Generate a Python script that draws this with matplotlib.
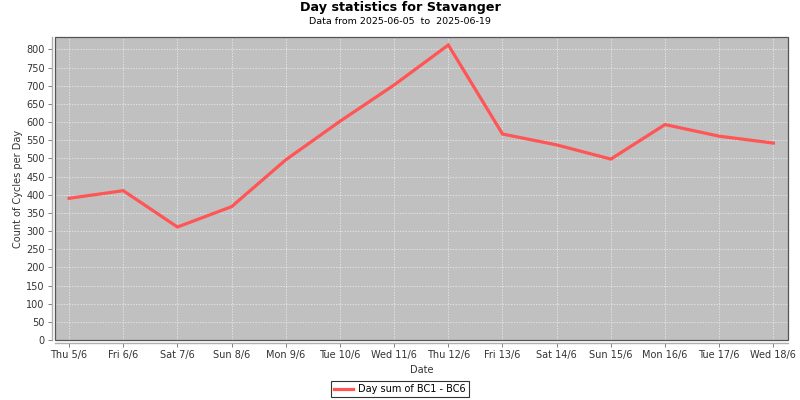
import numpy as np
import matplotlib.pyplot as plt
from matplotlib.patches import Rectangle

days = ["Thu 5/6", "Fri 6/6", "Sat 7/6", "Sun 8/6", "Mon 9/6", "Tue 10/6", "Wed 11/6",
        "Thu 12/6", "Fri 13/6", "Sat 14/6", "Sun 15/6", "Mon 16/6", "Tue 17/6", "Wed 18/6"]
counts = [390, 411, 311, 367, 496, 602, 702, 812, 567, 537, 498, 593, 561, 542]
yticks = list(range(0, 801, 50))

plt.rcParams['font.family'] = ['DejaVu Sans']
fig = plt.figure(figsize=(8, 4), dpi=100)
ax = fig.add_axes([55/800, 1-340/400, (788-55)/800, (340-37)/400])
ax.set_facecolor('#c0c0c0')

x = np.arange(len(days))
ax.plot(x, counts, color='#ff5555', lw=2.3, label='Day sum of BC1 - BC6', solid_joinstyle='miter')

ax.set_xlim(-0.26, len(days) - 1 + 0.27)
ax.set_ylim(0, 834)
ax.set_xticks(x)
ax.set_xticklabels(days)
ax.set_yticks(yticks)

ax.grid(True, color='#f0f0f0', ls=(0, (2, 2)), lw=0.5)
ax.set_axisbelow(True)

for s in ['top', 'right']:
    ax.spines[s].set_visible(False)
for s in ['left', 'bottom']:
    ax.spines[s].set_position(('outward', 2.5))
    ax.spines[s].set_color('#b0b0b0')
    ax.spines[s].set_linewidth(1)
ax.add_patch(Rectangle((0, 0), 1, 1, transform=ax.transAxes, fill=False,
                       edgecolor='#555555', lw=0.9, clip_on=False, zorder=5))

ax.tick_params(axis='both', labelsize=7, colors='#808080', labelcolor='#333333',
               length=3, width=0.7, pad=2)

ax.set_xlabel('Date', fontsize=7, color='#333333', labelpad=3)
ax.set_ylabel('Count of Cycles per Day', fontsize=7, color='#333333', labelpad=2)

fig.text(0.5, 1-8/400, 'Day statistics for Stavanger', ha='center', va='center',
         fontsize=9.2, fontweight='bold')
fig.text(0.5, 1-22/400, 'Data from 2025-06-05  to  2025-06-19', ha='center', va='center',
         fontsize=6.8)

leg = fig.legend(loc='center', bbox_to_anchor=(400/800, 1-389/400), fontsize=7,
                 frameon=True, fancybox=False, edgecolor='black', handlelength=2.0,
                 borderpad=0.35, handletextpad=0.5)
leg.get_frame().set_linewidth(0.8)

fig.savefig('out.png', dpi=100)
